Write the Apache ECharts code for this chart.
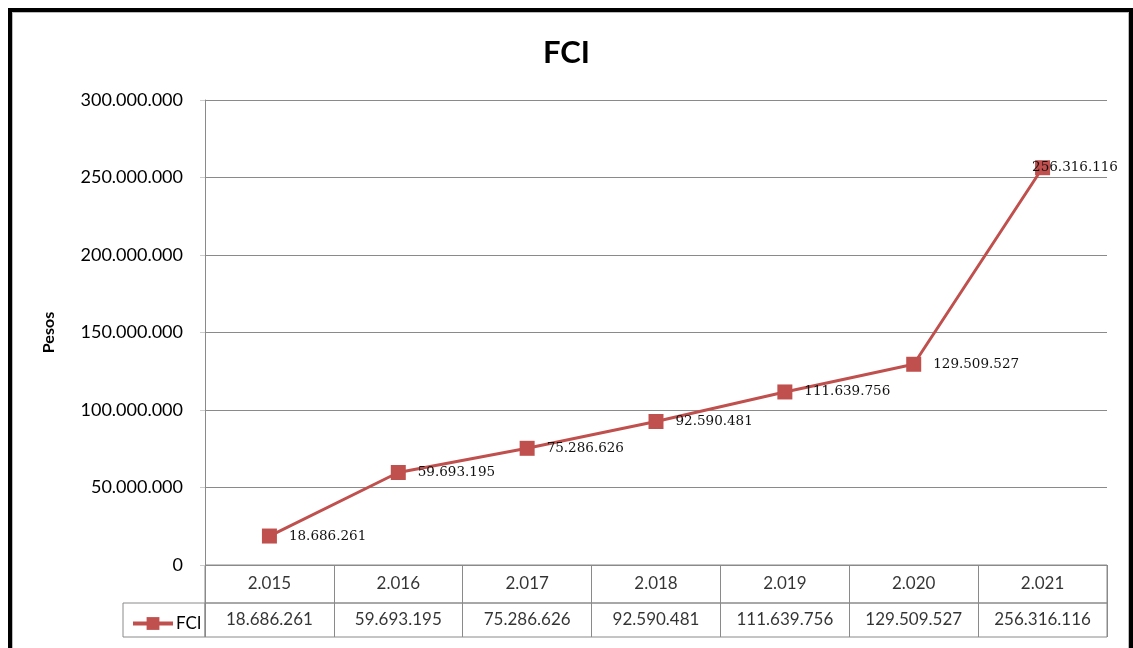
<!DOCTYPE html>
<html>
<head>
<meta charset="utf-8">
<script src="https://cdn.jsdelivr.net/npm/echarts@6/dist/echarts.min.js"></script>
<style>
  html, body { margin: 0; padding: 0; background: #fff; overflow: hidden; }
  #chart { position: absolute; left: 0; top: 0; width: 1133px; height: 648px; }
  #frame { position: absolute; left: 8px; top: 8px; width: 1117px; height: 700px;
           border: 4px solid #000; box-shadow: inset 0 0 0 1px #bbb; pointer-events: none; }
</style>
</head>
<body>
<div id="chart"></div>
<div id="frame"></div>
<script>
// datos del gráfico
const years = ['2.015', '2.016', '2.017', '2.018', '2.019', '2.020', '2.021']
const fci = [18686261, 59693195, 75286626, 92590481, 111639756, 129509527, 256316116]
const seriesName = 'FCI'

const RED = '#C0504D'
const GRID_C = '#8a8a8a'
const SANS = 'Lato, "Open Sans", sans-serif'

function fmt(v) {
  return String(v).replace(/\B(?=(\d{3})+(?!\d))/g, '.')
}

const chart = echarts.init(document.getElementById('chart'), null, { renderer: 'canvas' })

const hiddenAxis = { show: false }

chart.setOption({
  backgroundColor: '#fff',
  animation: false,
  title: {
    text: 'FCI', left: 'center', top: 32,
    textStyle: { fontFamily: SANS, fontWeight: 'bold', fontSize: 31, color: '#000' }
  },
  legend: {
    data: [seriesName], left: 126, top: 610,
    itemWidth: 40, itemHeight: 16, itemGap: 4,
    lineStyle: { width: 4 },
    textStyle: { fontFamily: SANS, fontSize: 17, color: '#000', padding: [0, 0, 0, -2] }
  },
  grid: [
    // área del gráfico
    { left: 205, right: 26, top: 100, bottom: 83 },
    // fila de años
    { left: 205, right: 26, top: 565, height: 38, show: true, borderColor: GRID_C, borderWidth: 1 },
    // fila de valores
    { left: 205, right: 26, top: 603, height: 34, show: true, borderColor: GRID_C, borderWidth: 1 },
    // celda de la leyenda
    { left: 123, width: 82, top: 603, height: 34, show: true, borderColor: GRID_C, borderWidth: 1 }
  ],
  xAxis: [
    {
      gridIndex: 0, type: 'category', data: years, boundaryGap: true,
      axisLine: { lineStyle: { color: GRID_C } },
      axisTick: { show: false }, axisLabel: { show: false }
    },
    {
      gridIndex: 1, type: 'category', data: years, boundaryGap: true,
      axisLine: { show: false }, axisTick: { show: false }, axisLabel: { show: false },
      splitLine: { show: true, interval: 0, lineStyle: { color: GRID_C } }
    },
    {
      gridIndex: 2, type: 'category', data: years, boundaryGap: true,
      axisLine: { show: false }, axisTick: { show: false }, axisLabel: { show: false },
      splitLine: { show: true, interval: 0, lineStyle: { color: GRID_C } }
    },
    { gridIndex: 3, type: 'value', ...hiddenAxis }
  ],
  yAxis: [
    {
      gridIndex: 0, type: 'value', min: 0, max: 300000000, interval: 50000000,
      name: 'Pesos', nameLocation: 'middle', nameGap: 148,
      nameTextStyle: { fontFamily: SANS, fontWeight: 'bold', fontSize: 16, color: '#000' },
      axisLine: { show: true, lineStyle: { color: GRID_C } },
      axisTick: { show: true, length: 5, lineStyle: { color: '#ccc' } },
      axisLabel: {
        margin: 22, fontFamily: SANS, fontSize: 18, color: '#000',
        formatter: v => fmt(v)
      },
      splitLine: { lineStyle: { color: GRID_C } }
    },
    { gridIndex: 1, type: 'value', min: 0, max: 1, ...hiddenAxis },
    { gridIndex: 2, type: 'value', min: 0, max: 1, ...hiddenAxis },
    { gridIndex: 3, type: 'value', ...hiddenAxis }
  ],
  series: [
    {
      name: seriesName, type: 'line', xAxisIndex: 0, yAxisIndex: 0,
      data: fci.map((v, i) => i === fci.length - 1
        ? { value: v, label: { offset: [-30, 0] } }
        : v),
      symbol: 'rect', symbolSize: 15,
      lineStyle: { color: RED, width: 3 },
      itemStyle: { color: RED },
      label: {
        show: true, position: 'right', distance: 12,
        fontFamily: '"DejaVu Serif", serif', fontSize: 13.5, color: '#111',
        formatter: p => fmt(p.value)
      }
    },
    {
      type: 'scatter', xAxisIndex: 1, yAxisIndex: 1, silent: true,
      data: years.map(y => [y, 0.5]),
      symbolSize: 1, itemStyle: { color: 'transparent' },
      label: {
        show: true, position: 'inside',
        fontFamily: SANS, fontSize: 17, color: '#000',
        formatter: p => p.value[0]
      }
    },
    {
      type: 'scatter', xAxisIndex: 2, yAxisIndex: 2, silent: true,
      data: fci.map((v, i) => [years[i], 0.5, v]),
      symbolSize: 1, itemStyle: { color: 'transparent' },
      label: {
        show: true, position: 'inside',
        fontFamily: SANS, fontSize: 17, color: '#000',
        formatter: p => fmt(p.value[2])
      }
    }
  ]
})
</script>
</body>
</html>
